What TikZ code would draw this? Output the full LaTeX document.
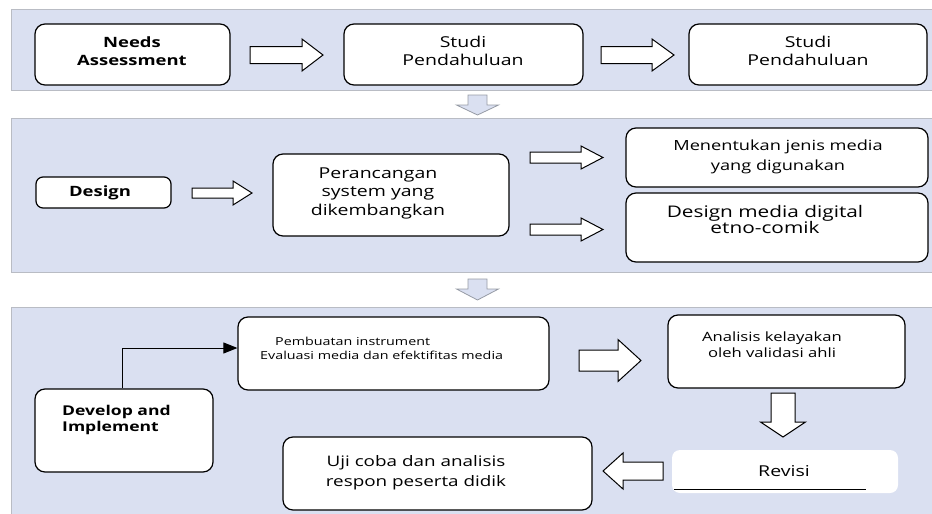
\documentclass[tikz,border=0pt]{standalone}
\usepackage{fontspec}
\setmainfont{Open Sans}[FakeStretch=1.3]
\usetikzlibrary{arrows.meta}
\definecolor{panelblue}{RGB}{218,224,241}
\definecolor{panelline}{RGB}{185,188,196}
\definecolor{grayarrow}{RGB}{150,155,165}
\tikzset{
  panel/.style={draw=panelline, line width=0.8pt, fill=panelblue},
  box/.style={draw=black, line width=1.2pt, fill=white, rounded corners=10pt, inner sep=0pt},
  plain/.style={draw=none, fill=white, rounded corners=8pt, inner sep=0pt},
  txt/.style={inner sep=0pt, align=center, font=\fontsize{14}{18}\selectfont},
  btxt/.style={inner sep=0pt, align=center, font=\fontsize{14.2}{18}\selectfont\bfseries},
  blockarrow/.style={draw=black, line width=1pt, fill=white, line join=miter},
  grayblock/.style={draw=grayarrow, line width=0.8pt, fill=panelblue, line join=miter},
  conn/.style={draw=black, line width=1pt, -{Triangle[length=14pt,width=11pt]}}
}
% right-pointing block arrow: x0, xhead, xtip, ycenter, shaft half, head half
\newcommand\blockR[7][blockarrow]{\draw[#1] (#2,#5-#6) -- (#3,#5-#6) -- (#3,#5-#7) -- (#4,#5) -- (#3,#5+#7) -- (#3,#5+#6) -- (#2,#5+#6) -- cycle;}
% down-pointing block arrow: y0, yhead, ytip, xcenter, shaft half, head half
\newcommand\blockD[7][blockarrow]{\draw[#1] (#5-#6,#2) -- (#5-#6,#3) -- (#5-#7,#3) -- (#5,#4) -- (#5+#7,#3) -- (#5+#6,#3) -- (#5+#6,#2) -- cycle;}
\begin{document}
\begin{tikzpicture}[x=1pt,y=-1pt]
\useasboundingbox (0,0) rectangle (932,514);
% panels
\draw[panel] (11,9) rectangle (940,90);
\draw[panel] (11,118) rectangle (940,272);
\draw[panel] (11,307) rectangle (940,520);
% gray arrows between panels
\blockD[grayblock]{95}{105}{115}{477.5}{9.5}{21}
\blockD[grayblock]{279}{289}{300}{477.5}{9.5}{21}

% ---- panel 1
\node[box, minimum width=195, minimum height=61] (na) at (132.5,54.5) {};
\node[btxt] (nat) at (132,51) {Needs\\Assessment};
\node[box, minimum width=239, minimum height=61] (sp1) at (463.5,54.5) {};
\node[txt, font=\fontsize{15}{18}\selectfont] (sp1t) at (463,51) {Studi\\Pendahuluan};
\node[box, minimum width=238, minimum height=61] (sp2) at (808,54.5) {};
\node[txt, font=\fontsize{15}{18}\selectfont] (sp2t) at (808,51) {Studi\\Pendahuluan};
\blockR{250}{302}{323}{55}{8.5}{16}
\blockR{601}{652}{674}{55}{8.5}{16}

% ---- panel 2
\node[box, minimum width=135, minimum height=31, rounded corners=7pt] (ds) at (103.5,192.5) {};
\node[btxt] (dst) at (100,193) {Design};
\blockR{192}{233}{252}{193}{5}{12}
\node[box, minimum width=236, minimum height=82] (pr) at (391,195) {};
\node[txt, font=\fontsize{15}{18.5}\selectfont] (prt) at (378,193) {Perancangan\\system yang\\dikembangkan};
\blockR{530}{581}{603}{157.5}{5.5}{11.5}
\blockR{530}{581}{603}{229.5}{5.5}{11.5}
\node[box, minimum width=302, minimum height=59] (mj) at (777,157.5) {};
\node[txt, font=\fontsize{14}{20}\selectfont] (mjt) at (778,157) {Menentukan jenis media\\yang digunakan};
\node[box, minimum width=302, minimum height=69] (dm) at (777,227.5) {};
\node[txt, font=\fontsize{16}{16}\selectfont] (dmt) at (765,219) {Design media digital\\etno-comik};

% ---- panel 3
\node[box, minimum width=311, minimum height=73] (pb) at (393.5,353.5) {};
\node[inner sep=0pt, anchor=west, font=\fontsize{11}{12}\selectfont] (pbt1) at (275,341) {Pembuatan instrument};
\node[inner sep=0pt, anchor=west, font=\fontsize{11}{12}\selectfont] (pbt2) at (260,355) {Evaluasi media dan efektifitas media};
\node[box, minimum width=178, minimum height=83] (dv) at (124,430.5) {};
\node[btxt, align=left, anchor=west, font=\fontsize{13.5}{16}\selectfont\bfseries] (dvt) at (62,420) {Develop and\\Implement};
\draw[conn] ([xshift=-2pt]dv.north) |- ([yshift=5.5pt]pb.west);
\blockR{579}{618}{641}{360.5}{10.5}{21}
\node[box, minimum width=237, minimum height=73] (an) at (786.5,351.5) {};
\node[txt, font=\fontsize{12.8}{16}\selectfont] (ant) at (772,345) {Analisis kelayakan\\oleh validasi ahli};
\blockD{393}{422}{437}{783}{12}{22.5}
\node[plain, minimum width=226, minimum height=43] (rv) at (785,471.5) {};
\node[txt, font=\fontsize{15}{18}\selectfont] (rvt) at (784,471) {Revisi};
\draw[line width=0.8pt] (674,489) -- (866,489);
\draw[blockarrow] (663,462) -- (623,462) -- (623,453) -- (603,471) -- (623,489) -- (623,480) -- (663,480) -- cycle;
\node[box, minimum width=309, minimum height=73] (uj) at (437.5,473.5) {};
\node[txt, font=\fontsize{14.5}{20}\selectfont] (ujt) at (416,473) {Uji coba dan analisis\\respon peserta didik};
\end{tikzpicture}
\end{document}
